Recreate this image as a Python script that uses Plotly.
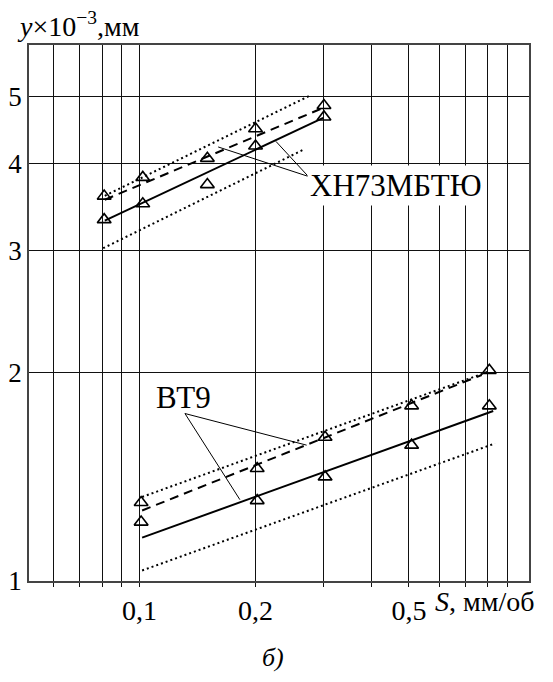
import numpy as np
import plotly.graph_objects as go

# ---------------- data ----------------
# ХН73МБТЮ
xh_s = [0.081, 0.102, 0.15, 0.2, 0.301]
xh_upper = [3.59, 3.82, 4.07, 4.49, 4.85]
xh_lower = [3.32, 3.50, 3.73, 4.24, 4.67]
xh_solid_s = [0.0813, 0.2996]
xh_solid_y = [3.31, 4.655]
xh_dash_s = [0.0813, 0.2996]
xh_dash_y = [3.547, 4.813]
xh_dotup_s = [0.0813, 0.2768]
xh_dotup_y = [3.594, 5.013]
xh_dotlo_s = [0.0805, 0.2686]
xh_dotlo_y = [3.02, 4.199]

# ВТ9
bt_s = [0.101, 0.202, 0.303, 0.508, 0.808]
bt_upper = [1.298, 1.453, 1.612, 1.789, 2.013]
bt_lower = [1.216, 1.306, 1.413, 1.570, 1.789]
bt_solid_s = [0.1016, 0.827]
bt_solid_y = [1.155, 1.759]
bt_dash_s = [0.1016, 0.772]
bt_dash_y = [1.264, 1.982]
bt_dotup_s = [0.1016, 0.803]
bt_dotup_y = [1.322, 2.004]
bt_dotlo_s = [0.1016, 0.836]
bt_dotlo_y = [1.0356, 1.579]

# leader lines of the labels (target, label corner, target)
xh_leader_s = [0.16, 0.274, 0.2259]
xh_leader_y = [4.227, 3.833, 4.306]
bt_leader_s = [0.2714, 0.1312, 0.1822]
bt_leader_y = [1.570, 1.744, 1.310]

# axes
x_grid = [0.06, 0.07, 0.08, 0.09, 0.1, 0.2, 0.3, 0.4, 0.5, 0.6, 0.7, 0.8, 0.9]
x_labels = ["", "", "", "", "0,1", "0,2", "", "", "0,5", "", "", "", ""]
y_ticks = [1, 2, 3, 4, 5]
y_labels = ["1", "2", "3", "4", "5"]
x_range = [0.0517, 1.024]
y_range = [1.0, 5.93]

FONT = "Liberation Serif, DejaVu Serif, serif"

fig = go.Figure()


def add_line(xs, ys, dash, width=2.0):
    fig.add_trace(go.Scatter(x=xs, y=ys, mode="lines",
                             line=dict(color="black", width=width, dash=dash),
                             hoverinfo="skip", showlegend=False))


def add_markers(xs, ys):
    fig.add_trace(go.Scatter(x=xs, y=ys, mode="markers",
                             marker=dict(symbol="triangle-up-open", size=12,
                                         color="black", line=dict(color="black", width=1.6)),
                             showlegend=False))


for xs, ys, d in [(xh_solid_s, xh_solid_y, "solid"),
                  (xh_dash_s, xh_dash_y, "9px,6px"),
                  (xh_dotup_s, xh_dotup_y, "2px,3px"),
                  (xh_dotlo_s, xh_dotlo_y, "2px,3px"),
                  (bt_solid_s, bt_solid_y, "solid"),
                  (bt_dash_s, bt_dash_y, "9px,6px"),
                  (bt_dotup_s, bt_dotup_y, "2px,3px"),
                  (bt_dotlo_s, bt_dotlo_y, "2px,3px")]:
    add_line(xs, ys, d)

add_line(xh_leader_s, xh_leader_y, "solid", 1.0)
add_line(bt_leader_s, bt_leader_y, "solid", 1.0)

add_markers(xh_s, xh_upper)
add_markers(xh_s, xh_lower)
add_markers(bt_s, bt_upper)
add_markers(bt_s, bt_lower)

# the page body adds an 8px offset, so the figure is sized to fit the window
fig.update_layout(
    width=537, height=666,
    margin=dict(l=21, r=16, t=37, b=93, autoexpand=False),
    paper_bgcolor="white", plot_bgcolor="white",
    font=dict(family=FONT, color="black", size=28),
    showlegend=False,
)

fig.update_xaxes(
    type="log", range=[np.log10(x_range[0]), np.log10(x_range[1])],
    tickmode="array", tickvals=x_grid, ticktext=x_labels,
    showgrid=True, gridcolor="#111", gridwidth=1,
    ticks="outside", ticklen=4, tickcolor="#111", tickwidth=1,
    showline=True, linecolor="#444", linewidth=1.6, mirror=True,
    tickfont=dict(family=FONT, size=28, color="black"),
    zeroline=False, automargin=False,
)
fig.update_yaxes(
    type="log", range=[np.log10(y_range[0]), np.log10(y_range[1])],
    tickmode="array", tickvals=y_ticks, ticktext=y_labels,
    showgrid=True, gridcolor="#111", gridwidth=1,
    ticks="", ticklabelstandoff=0,
    showline=True, linecolor="#444", linewidth=1.6, mirror=True,
    tickfont=dict(family=FONT, size=27, color="black"),
    zeroline=False, automargin=False,
)

# labels
fig.add_annotation(x=np.log10(0.462), y=np.log10(3.716), xref="x", yref="y",
                   text="ХН73МБТЮ", showarrow=False, bgcolor="white",
                   borderpad=2, font=dict(family=FONT, size=31, color="black"))
fig.add_annotation(x=np.log10(0.1304), y=np.log10(1.839), xref="x", yref="y",
                   text="ВТ9", showarrow=False,
                   font=dict(family=FONT, size=31, color="black"))

# axis titles
fig.add_annotation(x=-0.028, y=1.039, xref="paper", yref="paper",
                   xanchor="left", yanchor="middle", showarrow=False,
                   text="<i>y</i>×10<sup>−3</sup>,мм",
                   font=dict(family=FONT, size=28, color="black"))
fig.add_annotation(x=0.808, y=-0.038, xref="paper", yref="paper",
                   xanchor="left", yanchor="middle", showarrow=False,
                   text="<i>S</i>, мм/об",
                   font=dict(family=FONT, size=28, color="black"))
fig.add_annotation(x=0.488, y=-0.142, xref="paper", yref="paper",
                   xanchor="center", yanchor="middle", showarrow=False,
                   text="<i>б)</i>",
                   font=dict(family=FONT, size=26, color="black"))

fig.write_html("out.html")
